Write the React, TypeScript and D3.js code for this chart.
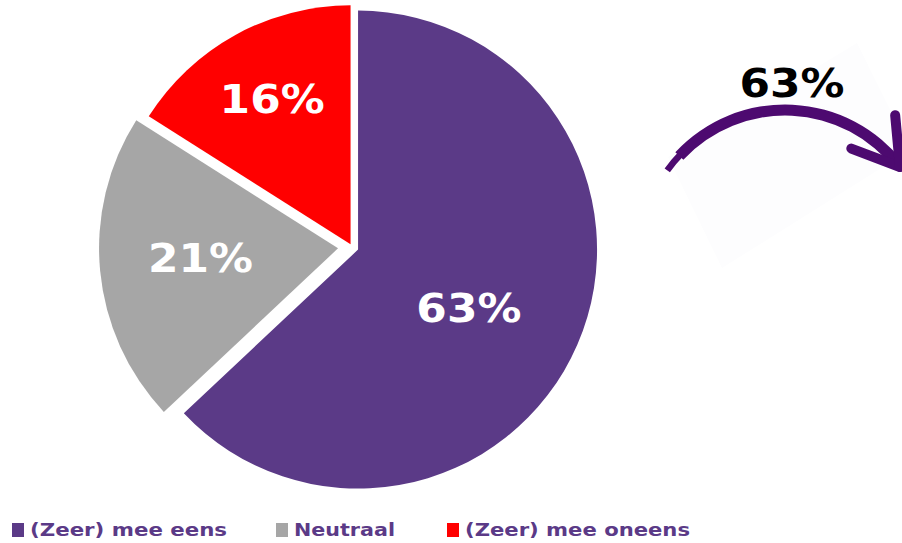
import React, { useEffect, useRef } from 'react';
import * as d3 from 'd3';

const categories = ['(Zeer) mee eens', 'Neutraal', '(Zeer) mee oneens'];
const values = [63, 21, 16];
const colors = ['#5b3a87', '#a6a6a6', '#ff0000'];
const highlightLabel = '63%';

// layout
const W = 902;
const H = 543;
const cx = 352;
const cy = 247;
const radius = 239;
const explode = [6.6, 14, 3];
const labelDist = [132, 152, 168];
const labelShift = [4.3, 1.4, 0.4]; // degrees
const legendX = [12, 276, 447];
const legendTextW = [197, 101, 225];
const FONT = 'DejaVu Sans, Verdana, sans-serif';

const App = () => {
  const ref = useRef<SVGSVGElement | null>(null);

  useEffect(() => {
    if (!ref.current) return;
    const svg = d3.select(ref.current);
    svg.selectAll('*').remove();

    const pie = d3.pie<number>().sort(null).value(d => d);
    const arcs = pie(values);
    const arc = d3.arc<d3.PieArcDatum<number>>().innerRadius(0).outerRadius(radius);

    const g = svg.append('g').attr('transform', `translate(${cx},${cy})`);

    arcs.forEach((a, i) => {
      const mid = (a.startAngle + a.endAngle) / 2;
      const dx = Math.sin(mid) * explode[i];
      const dy = -Math.cos(mid) * explode[i];
      g.append('path')
        .attr('d', arc(a) as string)
        .attr('transform', `translate(${dx},${dy})`)
        .attr('fill', colors[i]);
    });

    arcs.forEach((a, i) => {
      const mid = (a.startAngle + a.endAngle) / 2 + (labelShift[i] * Math.PI) / 180;
      g.append('text')
        .attr('x', Math.sin(mid) * labelDist[i])
        .attr('y', -Math.cos(mid) * labelDist[i])
        .attr('dy', '0.36em')
        .attr('text-anchor', 'middle')
        .attr('font-family', FONT)
        .attr('font-weight', 'bold')
        .attr('font-size', 39)
        .attr('textLength', 105)
        .attr('lengthAdjust', 'spacingAndGlyphs')
        .attr('fill', '#ffffff')
        .text(`${values[i]}%`);
    });

    // decorative arrow on the right
    const ac = { x: 785, y: 254.5 };
    const ar = 144.5;
    const theta = 0.92;

    svg.append('polygon')
      .attr('points', '857,43 668,157 722,268 910,150')
      .attr('fill', '#fdfdfe');

    const arrowG = svg.append('g').attr('transform', `translate(${ac.x},${ac.y})`);
    const bandArc = d3.arc()({
      innerRadius: ar - 5.5,
      outerRadius: ar + 5.5,
      startAngle: -theta + 0.1,
      endAngle: theta,
    } as any);
    arrowG.append('path').attr('d', bandArc as string).attr('fill', '#4d0a70');
    // thinner start of the brush stroke
    const taper = d3.arc()({
      innerRadius: ar - 3,
      outerRadius: ar + 3.5,
      startAngle: -theta - 0.03,
      endAngle: -theta + 0.12,
    } as any);
    arrowG.append('path').attr('d', taper as string).attr('fill', '#4d0a70');

    const tipX = Math.sin(theta) * ar;
    const tipY = -Math.cos(theta) * ar;
    const back = Math.atan2(-Math.sin(theta), -Math.cos(theta));
    const spread = (32 * Math.PI) / 180;
    [-1, 1].forEach(s => {
      const ang = back + s * spread;
      arrowG.append('line')
        .attr('x1', tipX)
        .attr('y1', tipY)
        .attr('x2', tipX + Math.cos(ang) * 52)
        .attr('y2', tipY + Math.sin(ang) * 52)
        .attr('stroke', '#4d0a70')
        .attr('stroke-width', 10)
        .attr('stroke-linecap', 'round');
    });

    svg.append('text')
      .attr('x', 792)
      .attr('y', 82.5)
      .attr('dy', '0.36em')
      .attr('text-anchor', 'middle')
      .attr('font-family', FONT)
      .attr('font-weight', 'bold')
      .attr('font-size', 39)
      .attr('textLength', 105)
      .attr('lengthAdjust', 'spacingAndGlyphs')
      .attr('fill', '#000000')
      .text(highlightLabel);

    // legend
    const legend = svg.append('g');
    categories.forEach((c, i) => {
      legend.append('rect')
        .attr('x', legendX[i])
        .attr('y', 523)
        .attr('width', 12)
        .attr('height', 14)
        .attr('fill', colors[i]);
      legend.append('text')
        .attr('x', legendX[i] + 18)
        .attr('y', 530)
        .attr('dy', '0.36em')
        .attr('font-family', FONT)
        .attr('font-weight', 'bold')
        .attr('font-size', 18)
        .attr('textLength', legendTextW[i])
        .attr('lengthAdjust', 'spacingAndGlyphs')
        .attr('fill', '#5b3a87')
        .text(c);
    });
  }, []);

  return (
    <svg
      ref={ref}
      width={W}
      height={H}
      style={{ position: 'absolute', left: 0, top: 0, background: '#ffffff' }}
    />
  );
};

export default App;
